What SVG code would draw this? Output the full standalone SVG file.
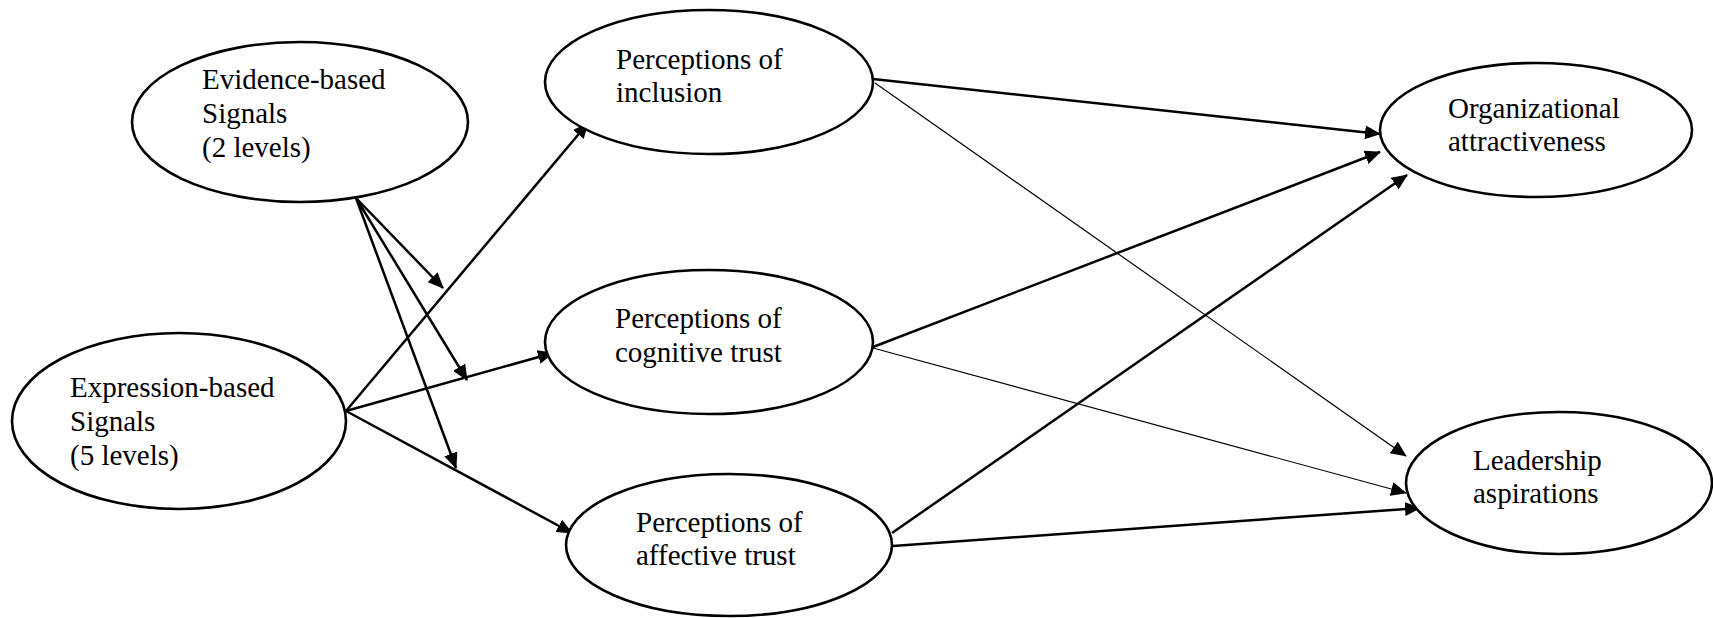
<svg xmlns="http://www.w3.org/2000/svg" width="1713" height="618" viewBox="0 0 1713 618">
  <style>
    .node ellipse { fill: #ffffff; stroke: #000000; stroke-width: 2.6; }
    .node text { font-family: "Liberation Serif", "Times New Roman", serif; font-size: 29px; fill: #000000; }
    .edge { stroke: #000000; stroke-width: 2.5; fill: none; marker-end: url(#arrow); }
    .edge.thin { stroke-width: 1.2; }
  </style>
  <defs>
    <marker id="arrow" markerUnits="userSpaceOnUse" viewBox="0 0 16 14" markerWidth="16" markerHeight="14" refX="15" refY="7" orient="auto">
      <path d="M0,0 L16,7 L0,14 z" fill="#000000"/>
    </marker>
  </defs>
  <rect width="1713" height="618" fill="#ffffff"/>

  <g id="connectors">
    <line class="edge" x1="356" y1="198" x2="443" y2="288"/>
    <line class="edge" x1="356" y1="198" x2="467" y2="380"/>
    <line class="edge" x1="356" y1="198" x2="456" y2="468"/>
    <line class="edge" x1="346" y1="411" x2="588" y2="123"/>
    <line class="edge" x1="346" y1="411" x2="553" y2="353"/>
    <line class="edge" x1="346" y1="411" x2="572" y2="533"/>
    <line class="edge" x1="873" y1="79" x2="1380" y2="134"/>
    <line class="edge thin" x1="875" y1="83" x2="1406" y2="456"/>
    <line class="edge" x1="873" y1="347" x2="1380" y2="152"/>
    <line class="edge thin" x1="873" y1="348" x2="1406" y2="493"/>
    <line class="edge" x1="892" y1="533" x2="1407" y2="175"/>
    <line class="edge" x1="893" y1="546" x2="1420" y2="508"/>
  </g>

  <g id="evidence" class="node">
    <ellipse cx="300" cy="122" rx="168" ry="80"/>
    <text x="202" y="89">Evidence-based</text>
    <text x="202" y="123">Signals</text>
    <text x="202" y="157">(2 levels)</text>
  </g>
  <g id="expression" class="node">
    <ellipse cx="179" cy="421" rx="167" ry="88"/>
    <text x="70" y="397">Expression-based</text>
    <text x="70" y="431">Signals</text>
    <text x="70" y="465">(5 levels)</text>
  </g>
  <g id="inclusion" class="node">
    <ellipse cx="709" cy="82" rx="164" ry="72"/>
    <text x="616" y="69">Perceptions of</text>
    <text x="616" y="102">inclusion</text>
  </g>
  <g id="cognitive" class="node">
    <ellipse cx="709" cy="342" rx="164" ry="72"/>
    <text x="615" y="328">Perceptions of</text>
    <text x="615" y="362">cognitive trust</text>
  </g>
  <g id="affective" class="node">
    <ellipse cx="729" cy="545" rx="163" ry="71"/>
    <text x="636" y="532">Perceptions of</text>
    <text x="636" y="565">affective trust</text>
  </g>
  <g id="attractiveness" class="node">
    <ellipse cx="1536" cy="130" rx="156" ry="67"/>
    <text x="1448" y="118">Organizational</text>
    <text x="1448" y="151">attractiveness</text>
  </g>
  <g id="leadership" class="node">
    <ellipse cx="1559" cy="483" rx="153" ry="71"/>
    <text x="1473" y="470">Leadership</text>
    <text x="1473" y="503">aspirations</text>
  </g>
</svg>
